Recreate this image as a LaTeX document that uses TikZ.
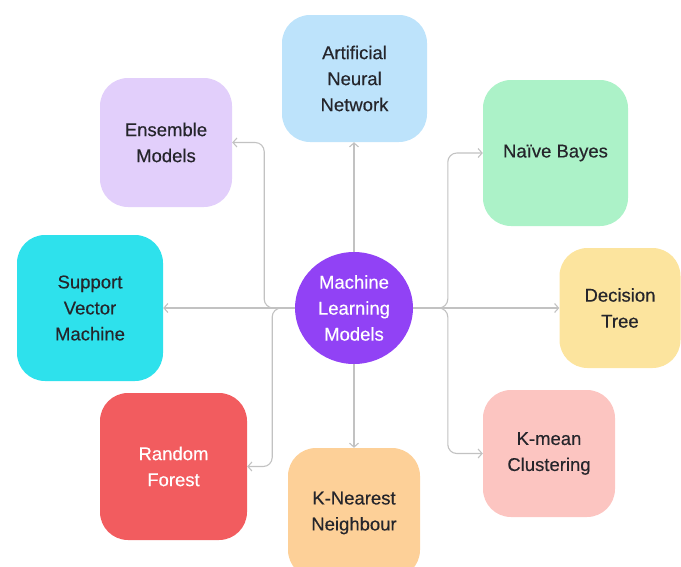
\documentclass[tikz,border=0pt]{standalone}
\usepackage{fontspec}
\setmainfont{Liberation Sans}
\newfontfamily\labelfont[FakeBold=0.35]{Liberation Sans}
\usetikzlibrary{arrows.meta,calc,shapes.geometric}

\definecolor{annblue}{HTML}{BDE3FB}
\definecolor{enslilac}{HTML}{E2CFFB}
\definecolor{nbgreen}{HTML}{ACF2C8}
\definecolor{svmcyan}{HTML}{2EE1EC}
\definecolor{dtyellow}{HTML}{FCE49E}
\definecolor{rfred}{HTML}{F25C5F}
\definecolor{knnpeach}{HTML}{FDD098}
\definecolor{kmpink}{HTML}{FCC5C1}
\definecolor{mlpurple}{HTML}{9142F5}
\definecolor{linkgray}{HTML}{C2C2C2}
\definecolor{labelink}{HTML}{25252B}

\tikzset{
	model/.style={rectangle, rounded corners=28pt, inner sep=0pt, align=center, text=labelink, font=\labelfont\fontsize{18.5}{26}\selectfont},
	link/.style={draw=linkgray, line width=1.1pt, rounded corners=9pt, -{Straight Barb[length=4pt,width=9pt]}},
}

\begin{document}
\begin{tikzpicture}[x=1pt, y=-1pt]
			%%%%% FRAME %%%%%
			\useasboundingbox (0, 0) rectangle (681, 566);
			\clip (0, 0) rectangle (681, 566);
			
			%%%%% NODES %%%%%
			\node[model, fill=annblue, minimum width=145pt, minimum height=127pt] (ann) at (354.5, 78.5) {Artificial\\Neural\\Network};
			\node[model, fill=enslilac, minimum width=132pt, minimum height=129pt] (ens) at (166, 142.5) {Ensemble\\Models};
			\node[model, fill=nbgreen, minimum width=145pt, minimum height=146pt] (nb) at (555.5, 153) {Naïve Bayes};
			\node[model, fill=svmcyan, minimum width=146pt, minimum height=146pt] (svm) at (90, 308) {Support\\Vector\\Machine};
			\node[model, fill=dtyellow, minimum width=121pt, minimum height=120pt] (dt) at (620, 308) {Decision\\Tree};
			\node[model, fill=rfred, text=white, minimum width=147pt, minimum height=147pt] (rf) at (173.5, 466.5) {Random\\Forest};
			\node[model, fill=knnpeach, minimum width=132pt, minimum height=130pt] (knn) at (354, 513) {K-Nearest\\Neighbour};
			\node[model, fill=kmpink, minimum width=132pt, minimum height=127pt] (km) at (549, 453.5) {K-mean\\Clustering};
			
			\node[model, ellipse, fill=mlpurple, text=white, minimum width=118pt, minimum height=112pt] (ml) at (354, 308) {Machine\\Learning\\Models};
			
			%%%%% LINKS %%%%%
			\draw[link] (ml.north) -- (ml.north |- ann.south);
			\draw[link] (ml.south) -- (ml.south |- knn.north);
			\draw[link] (ml.west) -- (svm.east |- ml.west);
			\draw[link] (ml.east) -- (dt.west |- ml.east);
			
			\draw[link] (ml.west) -| ($(ens.east)+(32, 0)$) -- (ens.east);
			\draw[link] (ml.west) -| ($(rf.east)+(25, 0)$) -- (rf.east);
			\draw[link] (ml.east) -| ($(nb.west)+(-35, 0)$) -- (nb.west);
			\draw[link] (ml.east) -| ($(km.west)+(-35, 0)$) -- (km.west);
\end{tikzpicture}
\end{document}
